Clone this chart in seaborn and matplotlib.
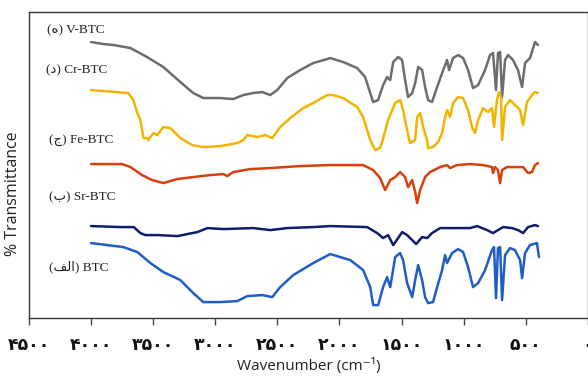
import matplotlib
matplotlib.use("Agg")
import matplotlib.pyplot as plt
import seaborn as sns
import pandas as pd

# FTIR spectra (wavenumber in cm^-1, transmittance in offset arbitrary units)
v_wn = [4000, 3900, 3818, 3683, 3549, 3418, 3281, 3177, 3096, 2959, 2855, 2774, 2694, 2621, 2557,
        2501, 2420, 2316, 2211, 2098, 2074, 1970, 1857, 1793, 1752, 1728, 1688, 1648, 1616,
        1591, 1567, 1527, 1495, 1471, 1447, 1414, 1390, 1366, 1334, 1310, 1286, 1254, 1213,
        1173, 1133, 1117, 1085, 1044, 1004, 964, 924, 883, 827, 787, 763, 739, 723, 706, 690,
        666, 642, 602, 562, 529, 505, 465, 425, 401]
v_t = [276, 274, 273, 270, 261, 251, 236, 225, 220, 220, 219, 223, 225, 226, 223,
       228, 240, 248, 255, 259, 260, 256, 250, 241, 225, 216, 218, 233, 241,
       238, 256, 261, 258, 238, 221, 225, 235, 251, 248, 231, 218, 216, 231,
       245, 258, 248, 260, 263, 260, 248, 230, 233, 248, 263, 265, 228, 265, 266, 221,
       258, 263, 258, 248, 231, 255, 260, 276, 273]

cr_wn = [4000, 3700, 3660, 3627, 3603, 3578, 3549, 3539, 3498, 3466, 3418, 3362, 3281, 3185,
         3096, 2959, 2822, 2774, 2742, 2661, 2597, 2541, 2477, 2396, 2291, 2211, 2098, 2050,
         1970, 1857, 1809, 1769, 1752, 1712, 1672, 1656, 1608, 1551, 1511, 1487, 1455, 1431,
         1390, 1374, 1350, 1326, 1294, 1286, 1246, 1205, 1173, 1149, 1133, 1109, 1085, 1044,
         1004, 964, 932, 908, 883, 843, 803, 771, 755, 731, 715, 698, 690, 666, 626, 586,
         545, 521, 489, 449, 425, 401]
cr_t = [228, 225, 218, 205, 198, 180, 180, 178, 185, 183, 191, 190, 180, 173,
        171, 172, 175, 178, 183, 181, 183, 180, 191, 200, 210, 215, 223, 223,
        220, 211, 201, 185, 178, 168, 170, 176, 198, 215, 218, 208, 188, 175,
        178, 201, 205, 191, 178, 170, 171, 176, 185, 201, 208, 201, 215, 221,
        220, 208, 191, 185, 198, 210, 206, 210, 191, 218, 226, 221, 178, 211, 218, 213,
        208, 193, 216, 223, 226, 225]

fe_wn = [4000, 3750, 3683, 3589, 3509, 3416, 3308, 3177, 3040, 2935, 2903, 2855, 2718, 2557,
         2316, 2074, 1809, 1728, 1672, 1632, 1591, 1551, 1511, 1471, 1447, 1414, 1390, 1374,
         1350, 1310, 1270, 1189, 1133, 1109, 1052, 948, 843, 771, 763, 747, 723, 706, 690,
         650, 586, 521, 481, 449, 425, 401]
fe_t = [154, 154, 151, 143, 138, 135, 139, 141, 143, 144, 142, 146, 149, 150,
        152, 153, 153, 148, 140, 128, 138, 141, 146, 141, 131, 138, 126, 115,
        128, 141, 146, 151, 153, 150, 153, 154, 153, 151, 145, 151, 148, 135, 148,
        151, 151, 151, 145, 146, 153, 155]

sr_wn = [4000, 3761, 3656, 3603, 3562, 3466, 3305, 3144, 3063, 2935, 2694, 2557, 2420, 2211,
         2074, 1777, 1696, 1648, 1608, 1567, 1527, 1495, 1455, 1414, 1382, 1334, 1294, 1254,
         1189, 1052, 948, 891, 811, 763, 723, 682, 610, 562, 521, 481, 425, 401]
sr_t = [92, 91, 91, 85, 83, 83, 82, 86, 90, 89, 90, 88, 90, 91,
        92, 91, 85, 80, 83, 73, 80, 86, 83, 78, 74, 81, 80, 85,
        90, 90, 90, 92, 88, 85, 88, 91, 90, 88, 85, 91, 93, 92]

btc_wn = [4000, 3740, 3627, 3522, 3418, 3281, 3177, 3096, 2959, 2822, 2742, 2621, 2541, 2477,
          2372, 2211, 2074, 1913, 1809, 1752, 1728, 1688, 1648, 1616, 1591, 1551, 1511, 1487,
          1455, 1414, 1390, 1366, 1334, 1310, 1286, 1246, 1213, 1173, 1149, 1133, 1093, 1044,
          1004, 964, 924, 883, 827, 771, 755, 739, 723, 706, 690, 666, 626, 586, 545, 529,
          505, 465, 409, 393]
btc_t = [75, 71, 66, 55, 46, 38, 25, 16, 16, 17, 22, 23, 21, 31,
         43, 55, 64, 58, 48, 31, 13, 13, 31, 41, 31, 61, 65, 58,
         35, 21, 38, 53, 38, 21, 15, 16, 31, 48, 63, 55, 65, 69,
         66, 51, 31, 35, 48, 68, 71, 20, 70, 71, 18, 63, 70, 68, 58, 40,
         65, 73, 75, 61]

series = [
    ("V-BTC", v_wn, v_t, "#6d6d6d"),
    ("Cr-BTC", cr_wn, cr_t, "#f2b400"),
    ("Fe-BTC", fe_wn, fe_t, "#d8400c"),
    ("Sr-BTC", sr_wn, sr_t, "#101c6c"),
    ("BTC", btc_wn, btc_t, "#1f5ec6"),
]

labels = ["(ه) V-BTC", "(د) Cr-BTC", "(ج) Fe-BTC", "(ب) Sr-BTC", "(ﻒﻟﺍ) BTC"]
label_x = [4355, 4365, 4335, 4335, 4335]
label_y = [288, 248, 177, 121, 51]

tick_values = [4500, 4000, 3500, 3000, 2500, 2000, 1500, 1000, 500, 0]
tick_labels = ["۴۵۰۰", "۴۰۰۰", "۳۵۰۰", "۳۰۰۰", "۲۵۰۰", "۲۰۰۰", "۱۵۰۰", "۱۰۰۰", "۵۰۰", "۰"]

sns.set_style("white")
plt.rcParams["font.family"] = ["DejaVu Sans"]

fig = plt.figure(figsize=(5.88, 3.76), dpi=100)
ax = fig.add_axes([0.0493, 0.154, 0.9503, 0.814])

for name, wn, t, color in series:
    df = pd.DataFrame({"wn": wn, "t": t})
    sns.lineplot(data=df, x="wn", y="t", color=color, linewidth=1.8, ax=ax,
                 sort=False, estimator=None)

for text, lx, ly in zip(labels, label_x, label_y):
    ax.text(lx, ly, text, ha="left", va="center", fontsize=9.5,
            family=["Liberation Serif", "DejaVu Sans"], color="#222222")

ax.set_xlim(4500, 0)
ax.set_ylim(0, 306)
ax.set_xticks(tick_values)
ax.set_xticklabels(tick_labels, fontsize=12.5, fontweight="bold", color="#111111")
ax.set_yticks([])
ax.tick_params(axis="x", direction="out", length=5, width=1, color="#444444", pad=8, bottom=True)

for sp in ax.spines.values():
    sp.set_color("#3a3a3a")
    sp.set_linewidth(1.0)

ax.set_xlabel("Wavenumber (cm⁻¹)", fontsize=11, family=["Open Sans", "DejaVu Sans"],
              color="#222222", labelpad=3)
ax.set_ylabel("% Transmittance", fontsize=11.5, family=["Open Sans", "DejaVu Sans"],
              color="#222222")
ax.yaxis.set_label_coords(-0.015, 0.405)

fig.savefig("out.png", dpi=100)
